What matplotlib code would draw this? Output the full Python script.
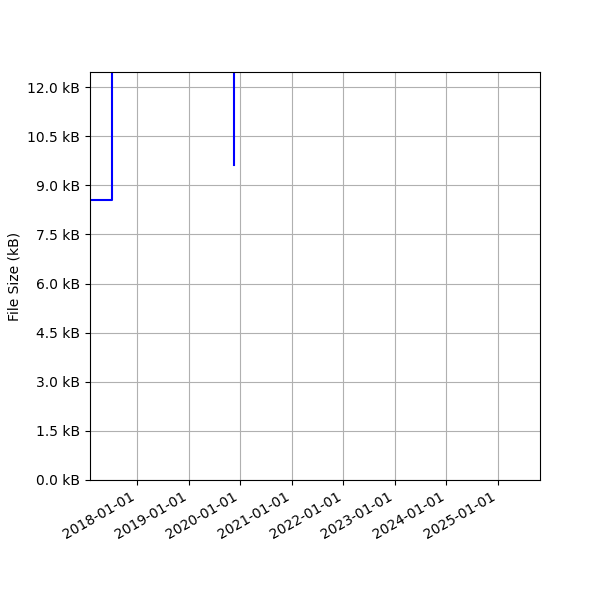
import matplotlib
matplotlib.use("Agg")
import matplotlib.pyplot as plt
import matplotlib.dates as mdates
import matplotlib.ticker as mticker
import pandas as pd

dates = ["2017-01-20", "2017-07-08", "2019-11-15"]
sizes_kb = [8.55, 20.0, 9.62]

x = pd.to_datetime(dates)
fig, ax = plt.subplots(figsize=(6, 6), dpi=100)
ax.step(x, sizes_kb, where="post", color="blue", linewidth=1.5)
ax.set_xlim(pd.Timestamp("2017-02-01"), pd.Timestamp("2025-10-25"))
ax.set_ylim(0, 12.46)
ax.yaxis.set_major_locator(mticker.MultipleLocator(1.5))
ax.yaxis.set_major_formatter(mticker.FuncFormatter(lambda v, p: f"{v:.1f} kB"))
ax.xaxis.set_major_locator(mdates.YearLocator())
ax.xaxis.set_major_formatter(mdates.DateFormatter("%Y-%m-%d"))
ax.set_ylabel("File Size (kB)")
ax.grid(True)
fig.autofmt_xdate()
fig.subplots_adjust(left=0.15, right=0.9, top=0.88, bottom=0.2)
fig.savefig("out.png")
